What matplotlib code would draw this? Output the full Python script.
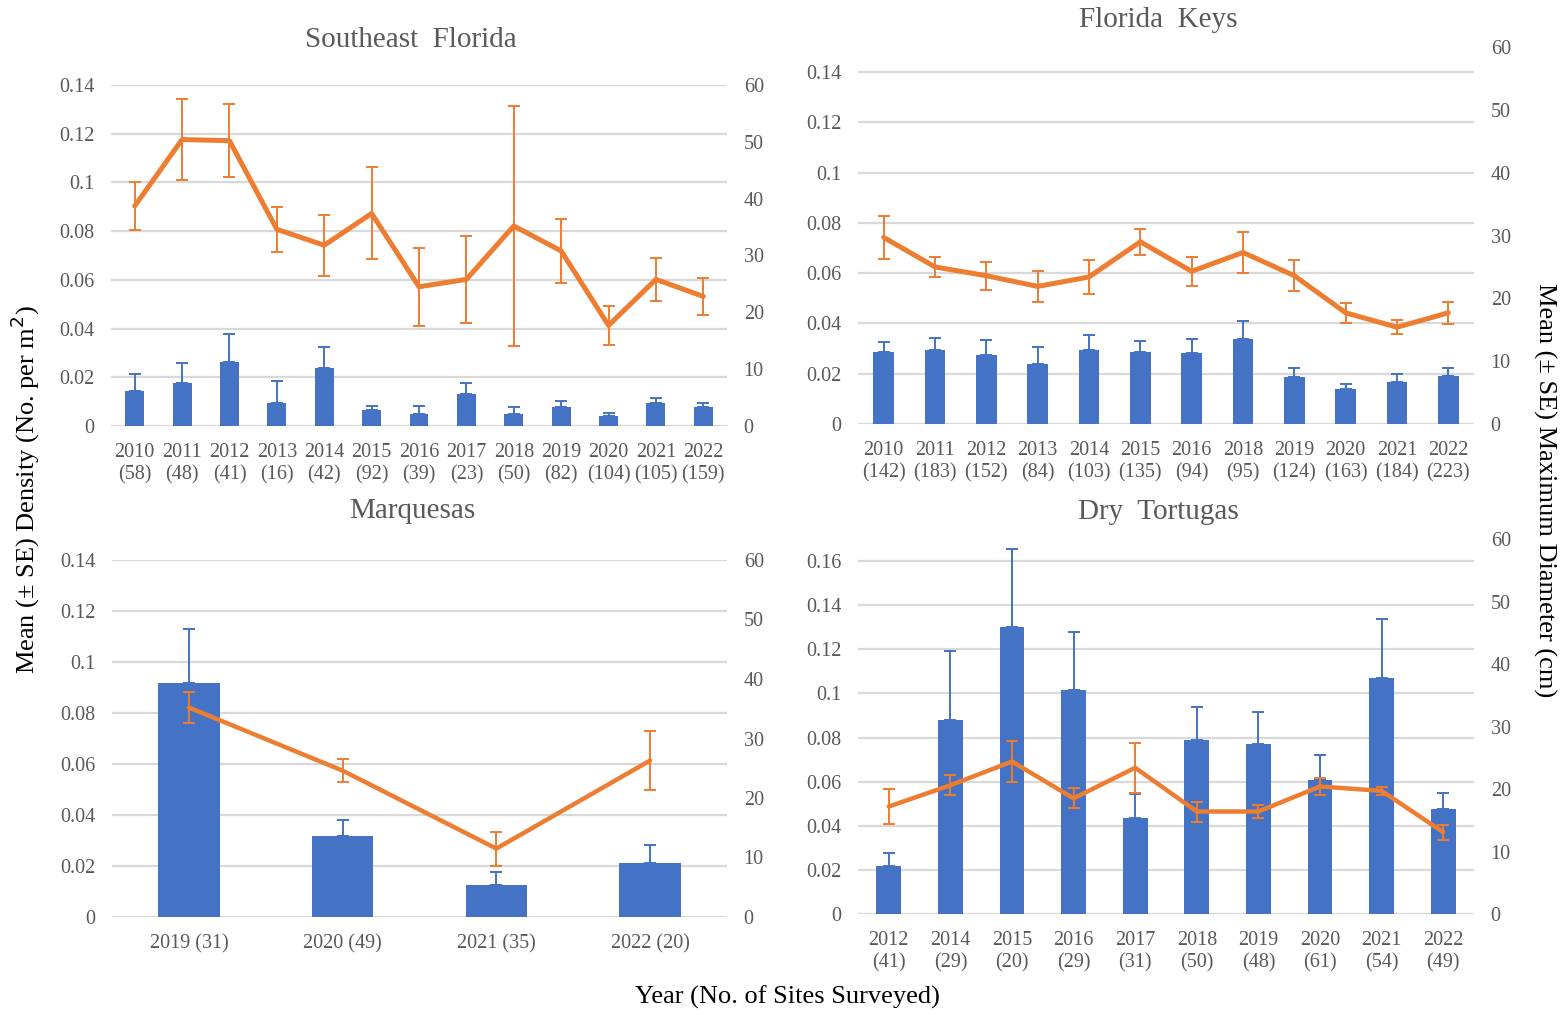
import numpy as np
import matplotlib
matplotlib.use('Agg')
import matplotlib.pyplot as plt
from matplotlib.ticker import FuncFormatter

plt.rcParams['font.family'] = ['Liberation Serif', 'DejaVu Serif']

BLUE = '#4472C4'
ORANGE = '#ED7D31'
GREY = '#595959'
GRID = '#D9D9D9'

# Southeast Florida
se_years = ['2010', '2011', '2012', '2013', '2014', '2015', '2016', '2017', '2018', '2019', '2020', '2021', '2022']
se_sites = [58, 48, 41, 16, 42, 92, 39, 23, 50, 82, 104, 105, 159]
se_density = [0.0144, 0.0176, 0.0264, 0.0095, 0.0238, 0.0064, 0.0050, 0.0132, 0.0050, 0.0078, 0.0042, 0.0095, 0.0078]
se_density_err = [0.0070, 0.0081, 0.0114, 0.0091, 0.0087, 0.0020, 0.0034, 0.0045, 0.0026, 0.0024, 0.0011, 0.0019, 0.0016]
se_diam = [38.7, 50.4, 50.2, 34.6, 31.8, 37.4, 24.5, 25.8, 35.2, 30.8, 17.7, 25.8, 22.8]
se_diam_err = [4.3, 7.2, 6.4, 4.0, 5.4, 8.1, 6.9, 7.6, 21.1, 5.6, 3.4, 3.8, 3.3]

# Florida Keys
fk_years = ['2010', '2011', '2012', '2013', '2014', '2015', '2016', '2018', '2019', '2020', '2021', '2022']
fk_sites = [142, 183, 152, 84, 103, 135, 94, 95, 124, 163, 184, 223]
fk_density = [0.0287, 0.0296, 0.0275, 0.0240, 0.0296, 0.0287, 0.0283, 0.0338, 0.0187, 0.0139, 0.0166, 0.0191]
fk_density_err = [0.0038, 0.0046, 0.0058, 0.0068, 0.0060, 0.0042, 0.0054, 0.0073, 0.0037, 0.0020, 0.0032, 0.0033]
fk_diam = [29.7, 25.0, 23.6, 21.9, 23.4, 29.0, 24.3, 27.3, 23.6, 17.7, 15.4, 17.7]
fk_diam_err = [3.4, 1.65, 2.2, 2.5, 2.7, 2.1, 2.3, 3.3, 2.5, 1.6, 1.1, 1.75]

# Marquesas
mq_years = ['2019', '2020', '2021', '2022']
mq_sites = [31, 49, 35, 20]
mq_density = [0.0917, 0.0316, 0.0127, 0.0213]
mq_density_err = [0.0214, 0.0065, 0.0048, 0.0070]
mq_diam = [35.2, 24.6, 11.5, 26.3]
mq_diam_err = [2.6, 1.9, 2.85, 4.95]

# Dry Tortugas
dt_years = ['2012', '2014', '2015', '2016', '2017', '2018', '2019', '2020', '2021', '2022']
dt_sites = [41, 29, 20, 29, 31, 50, 48, 61, 54, 49]
dt_density = [0.0216, 0.0878, 0.1299, 0.1017, 0.0434, 0.0789, 0.0769, 0.0606, 0.1071, 0.0478]
dt_density_err = [0.0059, 0.0314, 0.0357, 0.0260, 0.0110, 0.0151, 0.0145, 0.0115, 0.0268, 0.0071]
dt_diam = [17.2, 20.6, 24.4, 18.5, 23.4, 16.4, 16.4, 20.4, 19.7, 13.1]
dt_diam_err = [2.8, 1.6, 3.3, 1.6, 4.0, 1.6, 1.0, 1.3, 0.7, 1.2]

TICK_FS = 14.5


def fmt(v, pos):
    return f'{round(v, 4):g}'


def draw_panel(rect, labels, dens, dens_err, diam, diam_err, ymax, yticks, lw=3.6):
    ax = fig.add_axes(rect)
    x = np.arange(len(labels))
    ax.bar(x, dens, width=0.4, color=BLUE, zorder=2)
    ax.errorbar(x, dens, yerr=[np.zeros(len(dens)), dens_err], fmt='none',
                ecolor=BLUE, elinewidth=1.4, capsize=4, capthick=1.4, zorder=3)
    ax.set_xlim(-0.5, len(labels) - 0.5)
    ax.set_ylim(0, ymax)
    ax.set_yticks(yticks)
    ax.yaxis.set_major_formatter(FuncFormatter(fmt))
    ax.grid(axis='y', color=GRID, linewidth=1.6)
    ax.set_axisbelow(True)
    ax.set_xticks(x)
    ax.set_xticklabels(labels)
    ax.tick_params(length=0, labelsize=TICK_FS, labelcolor=GREY, pad=12)
    ax.tick_params(axis='x', pad=12.5)
    for s in ax.spines.values():
        s.set_visible(False)

    ax2 = ax.twinx()
    ax2.plot(x, diam, color=ORANGE, linewidth=lw, solid_capstyle='round', zorder=3)
    ax2.errorbar(x, diam, yerr=diam_err, fmt='none', ecolor=ORANGE,
                 elinewidth=1.4, capsize=4, capthick=1.4, zorder=4)
    ax2.set_ylim(0, 60)
    ax2.set_yticks(range(0, 61, 10))
    ax2.tick_params(length=0, labelsize=TICK_FS, labelcolor=GREY, pad=12)
    for s in ax2.spines.values():
        s.set_visible(False)
    return ax


fig = plt.figure(figsize=(15.61, 10.15), dpi=100)

W, H = 1561.0, 1015.0


def rect(x0, x1, ytop, ybot):
    return [x0 / W, 1 - ybot / H, (x1 - x0) / W, (ybot - ytop) / H]


se_labels = [f'{y}\n({n})' for y, n in zip(se_years, se_sites)]
fk_labels = [f'{y}\n({n})' for y, n in zip(fk_years, fk_sites)]
mq_labels = [f'{y} ({n})' for y, n in zip(mq_years, mq_sites)]
dt_labels = [f'{y}\n({n})' for y, n in zip(dt_years, dt_sites)]

draw_panel(rect(111, 727, 85, 426), se_labels, se_density, se_density_err,
           se_diam, se_diam_err, 0.14, np.arange(0, 0.141, 0.02))
draw_panel(rect(858, 1474, 47, 424), fk_labels, fk_density, fk_density_err,
           fk_diam, fk_diam_err, 0.15, np.arange(0, 0.141, 0.02))
draw_panel(rect(112, 727, 560, 917), mq_labels, mq_density, mq_density_err,
           mq_diam, mq_diam_err, 0.14, np.arange(0, 0.141, 0.02), lw=3.2)
draw_panel(rect(858, 1474, 539, 914), dt_labels, dt_density, dt_density_err,
           dt_diam, dt_diam_err, 0.17, np.arange(0, 0.161, 0.02), lw=3.2)

# titles
TITLE_FS = 21
fig.text(411 / W, 1 - 40 / H, 'Southeast  Florida', ha='center', va='center', fontsize=TITLE_FS, color=GREY)
fig.text(1158 / W, 1 - 20 / H, 'Florida  Keys', ha='center', va='center', fontsize=TITLE_FS, color=GREY)
fig.text(412 / W, 1 - 511 / H, 'Marquesas', ha='center', va='center', fontsize=TITLE_FS, color=GREY)
fig.text(1158 / W, 1 - 512 / H, 'Dry  Tortugas', ha='center', va='center', fontsize=TITLE_FS, color=GREY)

# axis labels
LABEL_FS = 19
fig.text(25 / W, 1 - 490 / H, 'Mean (± SE) Density (No. per m$^2$)', rotation=90,
         ha='center', va='center', fontsize=LABEL_FS, color='black')
fig.text(1545 / W, 1 - 490 / H, 'Mean (± SE) Maximum Diameter (cm)', rotation=270,
         ha='center', va='center', fontsize=LABEL_FS, color='black')
fig.text(787 / W, 1 - 997 / H, 'Year (No. of Sites Surveyed)', ha='center', va='center',
         fontsize=LABEL_FS, color='black')

plt.savefig('out.png', dpi=100)
plt.close()
